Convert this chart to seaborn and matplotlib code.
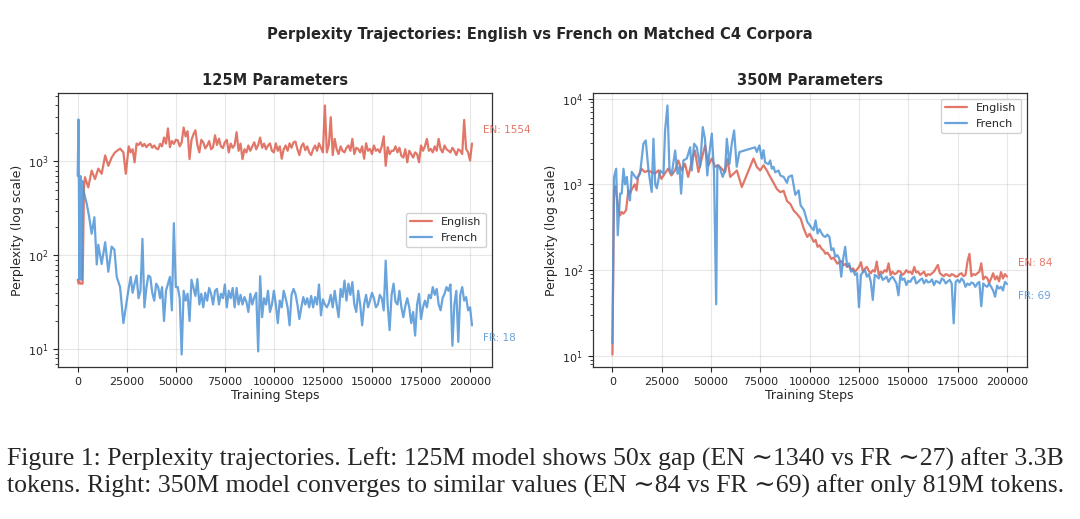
import numpy as np
import pandas as pd
import matplotlib
matplotlib.use("Agg")
import matplotlib.pyplot as plt
import seaborn as sns

# ---------------- data ----------------
# 125M model, English
L_EN_STEPS = [0, 500, 1000, 1500, 2500, 3200, 3700, 5400, 7100, 8800,
              10500, 12200, 14000, 15600, 17300, 19000, 21600, 23300, 24500] \
             + list(range(26000, 201001, 1000))
L_EN_PPL = [55, 50, 52, 50, 50, 530, 680, 530, 800, 650,
            840, 740, 1160, 900, 1100, 1250, 1370, 1250, 740,
            1450, 1250, 1350, 980, 1550,
            1500, 1600, 1450, 1540, 1420, 1500, 1540, 1400, 1480, 1380,
            1350, 1540, 1450, 1800, 1550, 2250, 1420, 1650, 1540, 1700,
            1680, 1450, 1600, 2300, 1850, 2100, 1060, 1700, 1950, 2150,
            1500, 1250, 1700, 1600, 1380, 1480, 1650, 1350, 1420, 1900,
            1500, 1750, 1450, 1390, 1600, 1700, 1250, 1550, 1400, 1500,
            2050, 1300, 1550, 1060, 1350, 1250, 1480, 1300, 1450, 1600,
            1350, 1500, 1800, 1400, 1550, 1350, 1480, 1560, 1300, 1250,
            1560, 1300, 1450, 1070, 1350, 1480, 1300, 1560, 1400, 1600,
            1630, 1350, 1170, 1450, 1560, 1320, 1450, 1250, 1170, 1350,
            1480, 1300, 1560, 1400, 1250, 3950, 1250, 1500, 2960, 1170,
            1740, 1350, 1200, 1450, 1300, 1250, 1400, 1480, 1300, 1740,
            1200, 1400, 1360, 1250, 1450, 1070, 1560, 1300, 1360, 1200,
            1480, 1300, 1350, 1250, 1450, 1850, 900, 1420, 1200, 1300,
            1300, 1450, 1250, 1400, 1150, 1100, 1350, 980, 1300, 1200,
            1100, 1250, 1200, 980, 1480, 1300, 1450, 1740, 1300, 1360,
            1250, 1450, 1300, 1740, 1350, 1250, 1480, 1350, 1300, 1250,
            1400, 1300, 1170, 1350, 1300, 1200, 2770, 1360, 1250, 1025,
            1554]

# 125M model, French
L_FR_STEPS = [0, 400, 900, 1400, 1900, 2400, 2900, 4600, 5800, 7100,
              8500, 9700, 10500, 12200, 14000, 15600, 17300, 18700, 19900, 21600,
              23300, 25000] + list(range(26000, 201001, 1000))
L_FR_PPL = [700, 2800, 55, 700, 55, 620, 490, 355, 260, 170,
            255, 80, 130, 81, 138, 67, 124, 115, 59, 46,
            19, 33,
            45, 59, 40, 50, 61,
            35, 42, 150, 28, 45, 61, 59, 40, 33, 50,
            46, 35, 46, 20, 42, 50, 59, 26, 220, 46,
            46, 35, 8.8, 42, 33, 39, 20, 55, 45, 37,
            56, 30, 39, 28, 40, 33, 45, 39, 30, 42,
            44, 30, 39, 35, 49, 28, 42, 35, 45, 28,
            45, 30, 38, 30, 36, 32, 25, 39, 30, 36,
            40, 9.5, 60, 22, 35, 30, 42, 25, 30, 42,
            30, 19, 33, 28, 42, 35, 28, 18, 38, 44,
            39, 30, 21, 28, 36, 30, 35, 28, 37, 28,
            36, 30, 49, 23, 34, 30, 28, 31, 38, 28,
            42, 30, 22, 44, 36, 54, 33, 50, 38, 52,
            30, 25, 42, 30, 18, 30, 38, 28, 33, 40,
            35, 28, 30, 38, 35, 26, 88, 30, 16, 38,
            50, 32, 30, 42, 28, 22, 29, 35, 28, 19,
            25, 14, 30, 39, 21, 28, 33, 28, 38, 35,
            46, 38, 44, 30, 26, 35, 39, 46, 42, 49,
            10.9, 30, 42, 12, 38, 46, 33, 36, 26, 28,
            18]

# 350M model, English
R_EN_STEPS = [0, 800, 1500, 2200, 3100, 3900, 4700, 5600, 6900, 8100,
              8800, 10100, 11300, 12200, 13000, 14700, 16400, 18100, 19800, 21500,
              23200, 24800, 26500, 28200, 29900, 31700, 33400, 35100, 36800, 38400,
              40100, 41800, 43600, 45300, 47000, 48700, 50400, 52100, 53700, 55400,
              57100, 58300, 59700, 61400, 63100, 65600, 71500, 73200, 74900, 76600,
              78300, 80000, 81700, 83400, 85100, 86800, 88500, 90200, 91900, 93600,
              95400, 97100, 98800] + list(range(100000, 200001, 1000))
R_EN_PPL = [10.4, 850, 950, 710, 520, 435, 475, 455, 500, 850,
            780, 900, 1000, 850, 1220, 1520, 1390, 1450, 1390, 1330,
            1450, 1160, 1330, 1520, 1270, 1450, 1900, 1450, 1730, 1220,
            1800, 2480, 1390, 2000, 2840, 1670, 2000, 1600, 1670, 1520,
            1390, 1990, 1220, 1330, 1450, 930, 2000, 1600, 1450, 1670,
            1450, 1220, 1040, 880, 810, 840, 640, 590, 495, 450,
            400, 300, 244,
            265,
            240, 214, 225, 187, 195, 178, 170, 155, 160, 148,
            135, 140, 130, 119, 124, 128, 114, 118, 109, 112,
            100, 105, 96, 102, 109, 124, 96, 104, 109, 98,
            92, 100, 96, 126, 88, 96, 92, 100, 96, 120,
            88, 96, 90, 92, 98, 96, 88, 92, 100, 94,
            96, 90, 109, 94, 96, 88, 92, 96, 85, 90,
            88, 92, 96, 105, 115, 92, 88, 85, 90, 88,
            85, 90, 88, 84, 85, 90, 92, 85, 88, 126,
            155, 85, 90, 88, 92, 96, 120, 78, 84, 81,
            71, 80, 92, 78, 85, 74, 95, 80, 90, 84]

# 350M model, French
R_FR_STEPS = [0, 800, 1900, 2700, 3900, 4700, 5600, 6400, 7300, 8100,
              8900, 9800, 11000, 12300, 14000, 15700, 16900, 18300, 19900, 20800,
              21700, 22500, 24200, 25900, 26700, 27900, 28900, 30100, 31800, 33000,
              34000, 34800, 36000, 37700, 39400, 40200, 41400, 42800, 44400, 45800,
              46900, 48100, 49100, 50400, 51500, 52600, 53200, 54600, 55900, 57100,
              58000, 59300, 60500, 61700, 63000, 64400, 72300, 73200, 74500, 75700,
              76600, 77400, 79100, 80000, 80800, 81700, 82500, 84200, 85100, 86800,
              88500, 89300, 91000, 92700, 94400, 95400, 97100, 98800] \
             + list(range(100000, 200001, 1000))
R_FR_PPL = [14, 1210, 1520, 255, 780, 780, 1520, 1000, 1220, 780,
            650, 1400, 1270, 1160, 1330, 2970, 3250, 1450, 815, 3400,
            1000, 900, 1450, 1330, 4250, 8300, 1520, 1330, 2480, 1330,
            1600, 780, 1900, 2000, 2700, 1450, 2970, 2700, 1600, 4650,
            3400, 1270, 2270, 3900, 1380, 40, 1670, 1520, 1220, 1450,
            3400, 1720, 2970, 4250, 1600, 2380, 2700, 2380, 2840, 1990,
            2500, 1800, 1720, 1900, 1520, 1600, 1380, 1450, 1270, 1220,
            1040, 1220, 1270, 755, 850, 570, 500, 365,
            335,
            310, 292, 380, 267, 300, 270, 250, 244, 260, 244,
            171, 180, 143, 150, 137, 84, 137, 187, 111, 120,
            96, 100, 88, 92, 37, 88, 95, 100, 84, 90,
            73, 45, 88, 85, 80, 90, 77, 80, 84, 73,
            80, 84, 77, 70, 51, 88, 77, 80, 67, 75,
            73, 80, 84, 70, 73, 77, 80, 70, 77, 72,
            73, 78, 67, 75, 73, 70, 80, 77, 70, 74,
            77, 70, 24, 73, 77, 72, 80, 75, 64, 70,
            67, 72, 70, 64, 70, 73, 38, 70, 66, 64,
            70, 64, 58, 49, 66, 61, 64, 58, 73, 69]

LANGS = ["English", "French"]
PANEL_TITLES = ["125M Parameters", "350M Parameters"]
SUPTITLE = "Perplexity Trajectories: English vs French on Matched C4 Corpora"
CAPTION = [
    "Figure 1: Perplexity trajectories. Left: 125M model shows 50x gap (EN \u223c1340 vs FR \u223c27) after 3.3B",
    "tokens. Right: 350M model converges to similar values (EN \u223c84 vs FR \u223c69) after only 819M tokens.",
]

COLORS = {"English": "#dc5f4e", "French": "#4f94d6"}


def make_df(en_s, en_p, fr_s, fr_p):
    return pd.concat([
        pd.DataFrame({"step": en_s, "ppl": en_p, "lang": "English"}),
        pd.DataFrame({"step": fr_s, "ppl": fr_p, "lang": "French"}),
    ], ignore_index=True)


sns.set_style("ticks")
plt.rcParams["font.family"] = ["DejaVu Sans"]

fig = plt.figure(figsize=(10.8, 5.19), dpi=100)
ax1 = fig.add_axes([0.0537, 0.2929, 0.4016, 0.5279])
ax2 = fig.add_axes([0.5488, 0.2929, 0.4018, 0.5279])

panels = [
    (ax1, make_df(L_EN_STEPS, L_EN_PPL, L_FR_STEPS, L_FR_PPL), "center right",
     (L_EN_STEPS[-1], L_EN_PPL[-1]), (L_FR_STEPS[-1], L_FR_PPL[-1])),
    (ax2, make_df(R_EN_STEPS, R_EN_PPL, R_FR_STEPS, R_FR_PPL), "upper right",
     (R_EN_STEPS[-1], R_EN_PPL[-1]), (R_FR_STEPS[-1], R_FR_PPL[-1])),
]

for (ax, df, legloc, en_last, fr_last), title in zip(panels, PANEL_TITLES):
    sns.lineplot(data=df, x="step", y="ppl", hue="lang", hue_order=LANGS,
                 palette=COLORS, estimator=None, linewidth=1.6, alpha=0.85, ax=ax)
    ax.set_yscale("log")
    ax.grid(True, which="major", alpha=0.3, color="#b0b0b0", linewidth=0.8)
    ax.set_title(title, fontsize=10.5, fontweight="bold", pad=6)
    ax.set_xlabel("Training Steps", fontsize=9, labelpad=2)
    ax.set_ylabel("Perplexity (log scale)", fontsize=9, labelpad=3)
    ax.tick_params(axis="both", which="major", labelsize=8, length=3.5, width=0.8)
    ax.tick_params(axis="y", which="minor", length=2, width=0.6)
    for sp in ax.spines.values():
        sp.set_color("#333333")
        sp.set_linewidth(0.9)
    handles, labels = ax.get_legend_handles_labels()
    ax.legend(handles, labels, loc=legloc, fontsize=8, frameon=True,
              framealpha=0.9, edgecolor="#cccccc", fancybox=True)
    ax.annotate(f"EN: {en_last[1]:.0f}", xy=en_last, xytext=(8, 10),
                textcoords="offset points", fontsize=7.5, color=COLORS["English"],
                alpha=0.85, va="center", ha="left", annotation_clip=False)
    ax.annotate(f"FR: {fr_last[1]:.0f}", xy=fr_last, xytext=(8, -9),
                textcoords="offset points", fontsize=7.5, color=COLORS["French"],
                alpha=0.85, va="center", ha="left", annotation_clip=False)

fig.text(0.5, 1 - 34 / 519, SUPTITLE, ha="center", va="center",
         fontsize=10.6, fontweight="bold")

serif = ["Liberation Serif", "DejaVu Serif"]
fig.text(7 / 1080, 1 - 466 / 519, CAPTION[0], ha="left", va="baseline",
         fontsize=18.5, family=serif)
fig.text(7 / 1080, 1 - 493 / 519, CAPTION[1], ha="left", va="baseline",
         fontsize=18.5, family=serif)

fig.savefig("out.png", dpi=100)
